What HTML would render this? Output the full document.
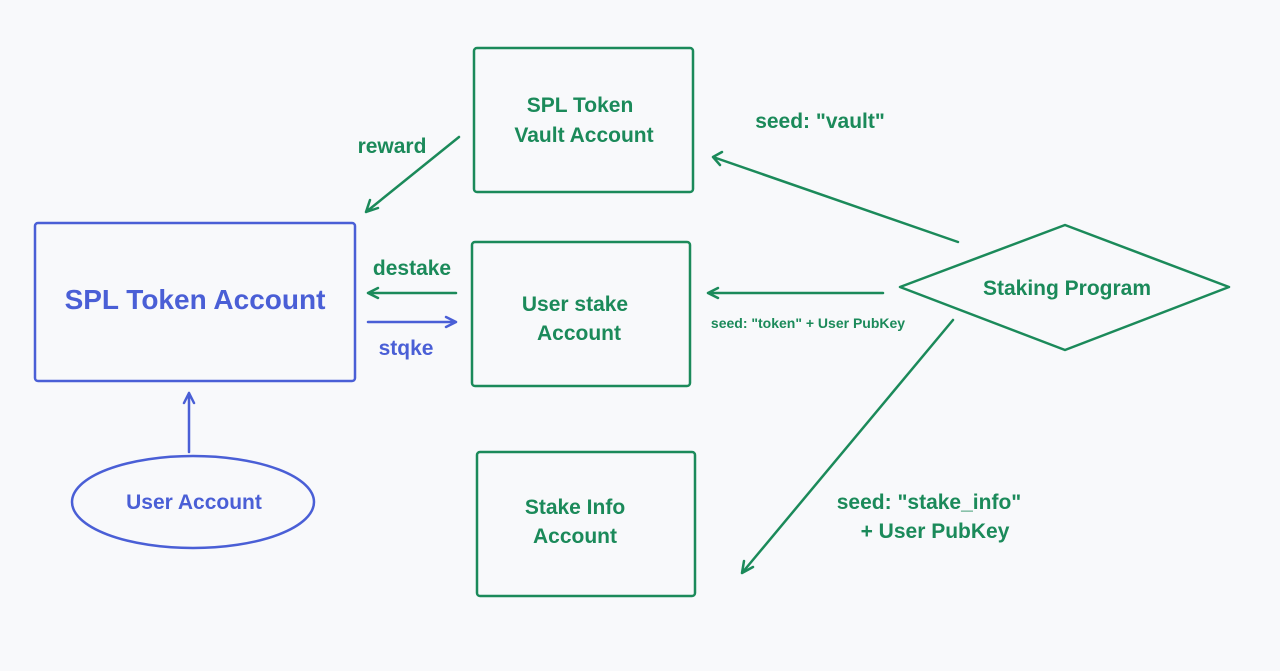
<!DOCTYPE html>
<html><head><meta charset="utf-8"><style>
html,body{margin:0;padding:0;background:#f8f9fb;}
svg{display:block}
text{font-family:"Liberation Sans",sans-serif;font-weight:bold;}
</style></head><body>
<svg width="1280" height="671" viewBox="0 0 1280 671" xmlns="http://www.w3.org/2000/svg">
<rect width="1280" height="671" fill="#f8f9fb"/>
<g fill="none" stroke="#1b8a5a" stroke-width="2.5" stroke-linecap="round" stroke-linejoin="round">
<rect x="474" y="48" width="219" height="144" rx="3"/>
<rect x="472" y="242" width="218" height="144" rx="3"/>
<rect x="477" y="452" width="218" height="144" rx="3"/>
<polygon points="900,287 1065,225 1229,287 1065,350"/>
<path d="M459,137 L366,212 M366,212 L370,200 M366,212 L378,208"/>
<path d="M456,293 L368,293 M368,293 L378,288 M368,293 L378,298"/>
<path d="M958,242 L713,157 M713,157 L722,152 M713,157 L720,165"/>
<path d="M883,293 L708,293 M708,293 L718,288 M708,293 L718,298"/>
<path d="M953,320 L742,573 M742,573 L744,561 M742,573 L753,567"/>
</g>
<g fill="none" stroke="#4a5fd6" stroke-width="2.5" stroke-linecap="round" stroke-linejoin="round">
<rect x="35" y="223" width="320" height="158" rx="3"/>
<ellipse cx="193" cy="502" rx="121" ry="46"/>
<path d="M368,322 L456,322 M456,322 L446,317 M456,322 L446,327"/>
<path d="M189,452 L189,393 M189,393 L184,403 M189,393 L194,403"/>
</g>
<g fill="#1b8a5a" text-anchor="middle" font-size="21">
<text x="580" y="112">SPL Token</text>
<text x="584" y="142">Vault Account</text>
<text x="575" y="311">User stake</text>
<text x="579" y="340">Account</text>
<text x="575" y="514">Stake Info</text>
<text x="575" y="543">Account</text>
<text x="1067" y="295">Staking Program</text>
<text x="392" y="153">reward</text>
<text x="412" y="275">destake</text>
<text x="820" y="128">seed: "vault"</text>
<text x="929" y="509">seed: "stake_info"</text>
<text x="935" y="538">+ User PubKey</text>
<text x="808" y="328" font-size="14">seed: "token" + User PubKey</text>
</g>
<g fill="#4a5fd6" text-anchor="middle">
<text x="195" y="309" font-size="28">SPL Token Account</text>
<text x="194" y="509" font-size="21">User Account</text>
<text x="406" y="355" font-size="21">stqke</text>
</g>
</svg>
</body></html>
